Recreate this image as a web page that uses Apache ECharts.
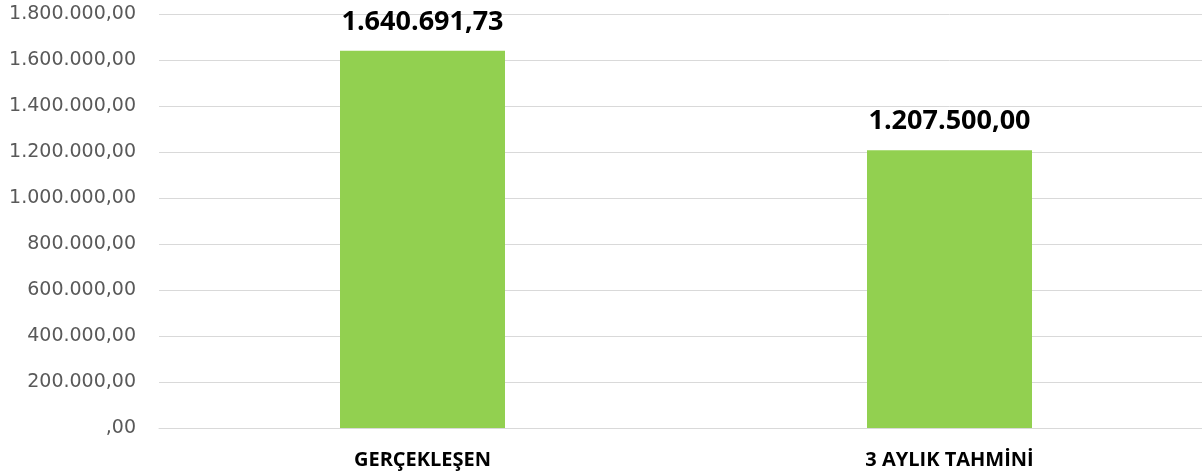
<!DOCTYPE html>
<html>
<head>
<meta charset="utf-8">
<script src="https://cdn.jsdelivr.net/npm/echarts@6/dist/echarts.min.js"></script>
<style>html,body{margin:0;padding:0;background:#fff;overflow:hidden;width:1202px;height:474px}#c{width:1213px;height:474px}</style>
</head>
<body>
<div id="c"></div>
<script>
const categories = ["GERÇEKLEŞEN", "3 AYLIK TAHMİNİ"];
const values = [1640691.73, 1207500.00];
const yMin = 0, yMax = 1800000, yStep = 200000;

function trFormat(v) {
  const fixed = Math.abs(v).toFixed(2);
  let [ip, dp] = fixed.split('.');
  ip = ip.replace(/\B(?=(\d{3})+(?!\d))/g, '.');
  if (ip === '0') ip = '';
  return (v < 0 ? '-' : '') + ip + ',' + dp;
}

const chart = echarts.init(document.getElementById('c'), null, {renderer: 'canvas', width: 1213, height: 474});
chart.setOption({
  animation: false,
  grid: {left: 159, right: 0, top: 14, bottom: 46, containLabel: false},
  xAxis: {
    type: 'category',
    data: categories,
    axisLine: {show: true, lineStyle: {color: '#D9D9D9', width: 1}},
    axisTick: {show: false},
    axisLabel: {color: '#000', fontFamily: 'Open Sans', fontWeight: 'bold', fontSize: 20, margin: 22}
  },
  yAxis: {
    type: 'value',
    min: yMin, max: yMax, interval: yStep,
    axisLine: {show: false},
    axisTick: {show: false},
    splitLine: {lineStyle: {color: '#D9D9D9', width: 1}},
    axisLabel: {color: '#595959', fontFamily: 'DejaVu Sans', fontSize: 19, margin: 23, formatter: trFormat}
  },
  series: [{
    type: 'bar',
    data: values,
    barWidth: 165,
    itemStyle: {color: '#92D050'},
    label: {show: true, position: 'top', distance: 15, color: '#000', fontFamily: 'Open Sans', fontWeight: 'bold', fontSize: 27, formatter: p => trFormat(p.value)}
  }]
});
</script>
</body>
</html>
